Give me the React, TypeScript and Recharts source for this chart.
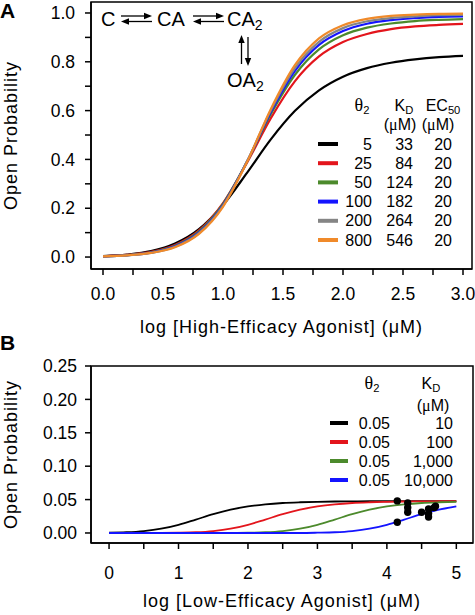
import React from "react";
import { LineChart, ComposedChart, Line, Scatter, XAxis, YAxis, ReferenceArea } from "recharts";

const FONT = '"Liberation Sans", Arial, Helvetica, sans-serif';
const GREEK = '"Liberation Serif", "DejaVu Serif", serif';

// ---- panel A: high-efficacy agonist ----
const LOG_A = [0, 0.2, 0.4, 0.6, 0.8, 1.0, 1.2, 1.4, 1.6, 1.8, 2.0, 2.2, 2.4, 2.6, 2.8, 3.0];
const PO_A_5 = [0.004, 0.010, 0.024, 0.055, 0.114, 0.213, 0.345, 0.483, 0.599, 0.683, 0.739, 0.774, 0.796, 0.810, 0.819, 0.824];
const PO_A_25 = [0.003, 0.009, 0.021, 0.049, 0.109, 0.221, 0.387, 0.570, 0.721, 0.822, 0.881, 0.914, 0.934, 0.945, 0.951, 0.955];
const PO_A_50 = [0.003, 0.008, 0.019, 0.046, 0.105, 0.218, 0.391, 0.587, 0.747, 0.851, 0.909, 0.940, 0.957, 0.967, 0.972, 0.975];
const PO_A_100 = [0.003, 0.007, 0.018, 0.044, 0.101, 0.213, 0.391, 0.595, 0.763, 0.869, 0.926, 0.956, 0.971, 0.979, 0.984, 0.986];
const PO_A_200 = [0.003, 0.007, 0.017, 0.042, 0.098, 0.210, 0.391, 0.602, 0.775, 0.882, 0.938, 0.966, 0.979, 0.986, 0.991, 0.992];
const PO_A_800 = [0.003, 0.007, 0.017, 0.040, 0.095, 0.206, 0.389, 0.608, 0.787, 0.896, 0.950, 0.976, 0.988, 0.993, 0.996, 0.997];

const THETA_A = ["5", "25", "50", "100", "200", "800"];
const KD_A = ["33", "84", "124", "182", "264", "546"];
const EC50_A = ["20", "20", "20", "20", "20", "20"];
const COLORS_A = ["#000000", "#e3151c", "#4c8a2c", "#1414ff", "#858585", "#f08a2a"];
const SERIES_A = [PO_A_5, PO_A_25, PO_A_50, PO_A_100, PO_A_200, PO_A_800];

const X_TICKS_A = [0, 0.25, 0.5, 0.75, 1, 1.25, 1.5, 1.75, 2, 2.25, 2.5, 2.75, 3];
const Y_TICKS_A = [0, 0.1, 0.2, 0.3, 0.4, 0.5, 0.6, 0.7, 0.8, 0.9, 1.0];

// ---- panel B: low-efficacy agonist ----
const LOG_B = [0, 0.25, 0.5, 0.75, 1, 1.25, 1.5, 1.75, 2, 2.25, 2.5, 2.75, 3, 3.25, 3.5, 3.75, 4, 4.25, 4.5, 4.75, 5];
const PO_B_10 = [0.0004, 0.0011, 0.0029, 0.0064, 0.0123, 0.0201, 0.0281, 0.0348, 0.0397, 0.0429, 0.0449, 0.0460, 0.0467, 0.0471, 0.0473, 0.0475, 0.0475, 0.0476, 0.0476, 0.0476, 0.0476];
const PO_B_100 = [0, 0, 0, 0.0001, 0.0004, 0.0011, 0.0029, 0.0064, 0.0123, 0.0201, 0.0281, 0.0348, 0.0397, 0.0429, 0.0449, 0.0460, 0.0467, 0.0471, 0.0473, 0.0475, 0.0475];
const PO_B_1000 = [0, 0, 0, 0, 0, 0, 0, 0.0001, 0.0004, 0.0011, 0.0029, 0.0064, 0.0123, 0.0201, 0.0281, 0.0348, 0.0397, 0.0429, 0.0449, 0.0460, 0.0467];
const PO_B_10000 = [0, 0, 0, 0, 0, 0, 0, 0, 0, 0, 0, 0, 0.0004, 0.0011, 0.0029, 0.0064, 0.0123, 0.0201, 0.0281, 0.0348, 0.0397];

const THETA_B = ["0.05", "0.05", "0.05", "0.05"];
const KD_B = ["10", "100", "1,000", "10,000"];
const COLORS_B = ["#000000", "#e3151c", "#4c8a2c", "#1414ff"];
const SERIES_B = [PO_B_10, PO_B_100, PO_B_1000, PO_B_10000];

const MEASURED_X = [4.15, 4.15, 4.3, 4.3, 4.3, 4.5, 4.6, 4.6, 4.6, 4.68, 4.7];
const MEASURED_Y = [0.048, 0.016, 0.045, 0.038, 0.031, 0.031, 0.036, 0.029, 0.024, 0.038, 0.040];

const X_TICKS_B = [0, 0.5, 1, 1.5, 2, 2.5, 3, 3.5, 4, 4.5, 5];
const Y_TICKS_B = [0, 0.05, 0.1, 0.15, 0.2, 0.25];

const DOM_XA: [number, number] = [-0.1, 3.075];
const DOM_YA: [number, number] = [-0.049, 1.045];
const DOM_XB: [number, number] = [-0.26, 5.24];
const DOM_YB: [number, number] = [-0.015, 0.25];

const isMult = (v: number, step: number) => Math.abs(v / step - Math.round(v / step)) < 1e-6;

const tickStyle = { fill: "#000", fontSize: 17.5, fontFamily: FONT };
const lineStyle = { stroke: "#000", strokeWidth: 1.5 };
const labelStyle = { textAnchor: "middle" as const, fill: "#000", fontSize: 18, fontFamily: FONT, letterSpacing: 1 };

const rowsA = LOG_A.map((x, i) => {
  const row: Record<string, number> = { x };
  SERIES_A.forEach((s, k) => (row["s" + k] = s[i]));
  return row;
});

function Arrow({ x1, y1, x2, y2 }: { x1: number; y1: number; x2: number; y2: number }) {
  const dx = x2 - x1, dy = y2 - y1;
  const len = Math.hypot(dx, dy);
  const ux = dx / len, uy = dy / len;
  const bx = x2 - ux * 8, by = y2 - uy * 8;
  return (
    <g>
      <line x1={x1} y1={y1} x2={bx} y2={by} stroke="#000" strokeWidth={1.3} />
      <polygon points={`${x2},${y2} ${bx - uy * 3.2},${by + ux * 3.2} ${bx + uy * 3.2},${by - ux * 3.2}`} fill="#000" />
    </g>
  );
}

function Sub({ children }: { children: React.ReactNode }) {
  return <tspan fontSize="0.7em" dy="0.3em">{children}</tspan>;
}

export default function App() {
  return (
    <div style={{ position: "absolute", left: 0, top: 0, width: 475, height: 615, background: "#fff", fontFamily: FONT }}>
      <div style={{ position: "absolute", left: 0, top: 0 }}>
        <LineChart width={475} height={345} data={rowsA} margin={{ top: 2, right: 3, bottom: 0, left: 0 }}>
          <XAxis dataKey="x" type="number" domain={DOM_XA} allowDataOverflow ticks={X_TICKS_A} interval={0}
            tickFormatter={(v: number) => (isMult(v, 0.5) ? v.toFixed(1) : "")}
            tick={tickStyle} tickLine={lineStyle} axisLine={lineStyle} tickSize={6} tickMargin={13} height={76}
            label={{ value: "log [High-Efficacy Agonist] (\u03bcM)", position: "insideBottom", offset: 12, style: labelStyle }} />
          <YAxis type="number" domain={DOM_YA} allowDataOverflow ticks={Y_TICKS_A} interval={0}
            tickFormatter={(v: number) => (isMult(v, 0.2) ? v.toFixed(1) : "")}
            tick={tickStyle} tickLine={lineStyle} axisLine={lineStyle} tickSize={6} tickMargin={10} width={91}
            label={{ value: "Open Probability", angle: -90, position: "insideLeft", offset: 11, style: labelStyle }} />
          <ReferenceArea x1={DOM_XA[0]} x2={DOM_XA[1]} y1={DOM_YA[0]} y2={DOM_YA[1]} ifOverflow="visible" fill="none" stroke="#000" strokeWidth={1.5} />
          {SERIES_A.map((_, k) => (
            <Line key={k} type="monotone" dataKey={"s" + k} stroke={COLORS_A[k]} strokeWidth={2.2} dot={false} isAnimationActive={false} />
          ))}
        </LineChart>
      </div>

      <div style={{ position: "absolute", left: 0, top: 345 }}>
        <ComposedChart width={475} height={270} margin={{ top: 21, right: 2, bottom: 0, left: 0 }}>
          <XAxis dataKey="x" type="number" domain={DOM_XB} allowDataOverflow ticks={X_TICKS_B} interval={0}
            tickFormatter={(v: number) => (isMult(v, 1) ? String(v) : "")}
            tick={tickStyle} tickLine={lineStyle} axisLine={lineStyle} tickSize={6} tickMargin={18} height={72}
            label={{ value: "log [Low-Efficacy Agonist] (\u03bcM)", position: "insideBottom", offset: 8, style: labelStyle }} />
          <YAxis type="number" domain={DOM_YB} allowDataOverflow ticks={Y_TICKS_B} interval={0}
            tickFormatter={(v: number) => v.toFixed(2)}
            tick={tickStyle} tickLine={lineStyle} axisLine={lineStyle} tickSize={6} tickMargin={8} width={91}
            label={{ value: "Open Probability", angle: -90, position: "insideLeft", offset: 11, style: labelStyle }} />
          <ReferenceArea x1={DOM_XB[0]} x2={DOM_XB[1]} y1={DOM_YB[0]} y2={DOM_YB[1]} ifOverflow="visible" fill="none" stroke="#000" strokeWidth={1.5} />
          {SERIES_B.map((s, k) => (
            <Line key={k} data={LOG_B.map((x, i) => ({ x, y: s[i] }))} type="monotone" dataKey="y" stroke={COLORS_B[k]} strokeWidth={1.8} dot={false} isAnimationActive={false} />
          ))}
          <Scatter data={MEASURED_X.map((x, i) => ({ x, y: MEASURED_Y[i] }))} dataKey="y" isAnimationActive={false}
            shape={(p: any) => <circle cx={p.cx} cy={p.cy} r={3.7} fill="#000" />} />
        </ComposedChart>
      </div>

      <svg width={475} height={615} style={{ position: "absolute", left: 0, top: 0, pointerEvents: "none" }} fontFamily={FONT}>
        <text x={0} y={18} fontSize={21} fontWeight="bold">A</text>
        <text x={0} y={350} fontSize={21} fontWeight="bold">B</text>

        {/* reaction scheme */}
        <g fontSize={20}>
          <text x={101} y={26}>C</text>
          <text x={157} y={26}>CA</text>
          <text x={227} y={26}>CA<Sub>2</Sub></text>
          <text x={227} y={87}>OA<Sub>2</Sub></text>
        </g>
        <Arrow x1={121} y1={16} x2={152} y2={16} />
        <Arrow x1={152} y1={21.5} x2={121} y2={21.5} />
        <Arrow x1={193} y1={16} x2={224} y2={16} />
        <Arrow x1={224} y1={21.5} x2={193} y2={21.5} />
        <Arrow x1={241.5} y1={64} x2={241.5} y2={35} />
        <Arrow x1={248} y1={37} x2={248} y2={66} />

        {/* legend A */}
        <g fontSize={16} textAnchor="middle">
          <text x={362} y={111}><tspan fontFamily={GREEK} fontSize={18}>θ</tspan><Sub>2</Sub></text>
          <text x={404} y={111}>K<Sub>D</Sub></text>
          <text x={443} y={111}>EC<Sub>50</Sub></text>
          <text x={400} y={130}>(<tspan fontFamily={GREEK}>μ</tspan>M)</text>
          <text x={438} y={130}>(<tspan fontFamily={GREEK}>μ</tspan>M)</text>
        </g>
        {THETA_A.map((t, i) => {
          const y = 144 + i * 19.2;
          return (
            <g key={t} fontSize={16} textAnchor="end">
              <line x1={318} x2={338} y1={y} y2={y} stroke={COLORS_A[i]} strokeWidth={4} />
              <text x={372} y={y + 5.5}>{t}</text>
              <text x={413} y={y + 5.5}>{KD_A[i]}</text>
              <text x={452} y={y + 5.5}>{EC50_A[i]}</text>
            </g>
          );
        })}

        {/* legend B */}
        <g fontSize={16} textAnchor="middle">
          <text x={372} y={389}><tspan fontFamily={GREEK} fontSize={18}>θ</tspan><Sub>2</Sub></text>
          <text x={431} y={389}>K<Sub>D</Sub></text>
          <text x={433} y={411}>(<tspan fontFamily={GREEK}>μ</tspan>M)</text>
        </g>
        {THETA_B.map((t, i) => {
          const y = 423 + i * 19;
          return (
            <g key={i} fontSize={16} textAnchor="end">
              <line x1={330} x2={348} y1={y} y2={y} stroke={COLORS_B[i]} strokeWidth={4} />
              <text x={390} y={y + 5.5}>{t}</text>
              <text x={453} y={y + 5.5}>{KD_B[i]}</text>
            </g>
          );
        })}
      </svg>
    </div>
  );
}
